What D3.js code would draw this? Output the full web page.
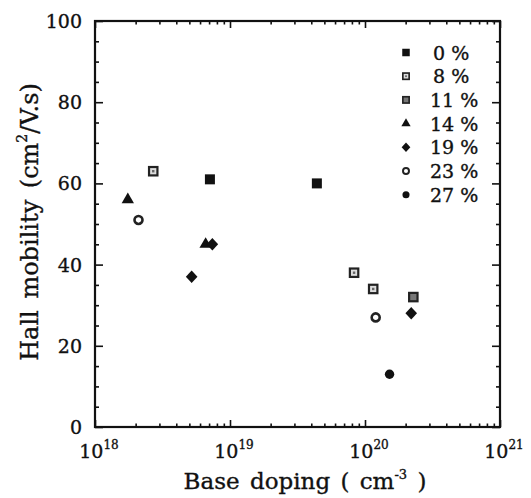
<!DOCTYPE html>
<html>
<head>
<meta charset="utf-8">
<script src="https://cdn.jsdelivr.net/npm/d3@7"></script>
<style>
  html, body { margin: 0; padding: 0; background: #fff; }
  svg text { font-family: "DejaVu Serif", "Liberation Serif", serif; fill: #111; stroke: #111; stroke-width: 0.35; }
</style>
</head>
<body>
<svg id="chart" width="531" height="498"></svg>
<script>
// ---- data ----
const seriesNames = ["0 %", "8 %", "11 %", "14 %", "19 %", "23 %", "27 %"];
const dop0  = [7.1e18, 4.4e19];          const mob0  = [61, 60];
const dop8  = [2.7e18, 8.3e19, 1.15e20]; const mob8  = [63, 38, 34];
const dop11 = [2.28e20];                 const mob11 = [32];
const dop14 = [1.75e18, 6.6e18];         const mob14 = [56, 45];
const dop19 = [5.2e18, 7.4e18, 2.2e20];  const mob19 = [37, 45, 28];
const dop23 = [2.1e18, 1.2e20];          const mob23 = [51, 27];
const dop27 = [1.52e20];                 const mob27 = [13];
const xMajorTicks = [1e18, 1e19, 1e20, 1e21];
const xTickExp = ["18", "19", "20", "21"];
const yMajorTicks = [0, 20, 40, 60, 80, 100];

const dops = [dop0, dop8, dop11, dop14, dop19, dop23, dop27];
const mobs = [mob0, mob8, mob11, mob14, mob19, mob23, mob27];

// ---- layout ----
const L = 95, R = 500, T = 21, B = 427;
const svg = d3.select("#chart");
const x = d3.scaleLog().domain([1e18, 1e21]).range([L, R]);
const y = d3.scaleLinear().domain([0, 100]).range([B, T]);

const xMinor = [];
for (let e = 18; e < 21; e++) for (let m = 2; m <= 9; m++) xMinor.push(m * Math.pow(10, e));
const yMinor = d3.range(0, 101, 5).filter(v => v % 20 !== 0);

function styleAxis(g) {
  g.select(".domain").remove();
  g.selectAll("line").attr("stroke", "#111").attr("stroke-width", 1.6);
}
// bottom / top
svg.append("g").attr("transform", `translate(0,${B})`)
  .call(d3.axisBottom(x).tickValues(xMajorTicks).tickSize(-7).tickFormat("")).call(styleAxis);
svg.append("g").attr("transform", `translate(0,${B})`)
  .call(d3.axisBottom(x).tickValues(xMinor).tickSize(-3.5).tickFormat("")).call(styleAxis);
svg.append("g").attr("transform", `translate(0,${T})`)
  .call(d3.axisTop(x).tickValues(xMajorTicks).tickSize(-7).tickFormat("")).call(styleAxis);
svg.append("g").attr("transform", `translate(0,${T})`)
  .call(d3.axisTop(x).tickValues(xMinor).tickSize(-3.5).tickFormat("")).call(styleAxis);
// left / right
svg.append("g").attr("transform", `translate(${L},0)`)
  .call(d3.axisLeft(y).tickValues(yMajorTicks).tickSize(-8).tickFormat("")).call(styleAxis);
svg.append("g").attr("transform", `translate(${L},0)`)
  .call(d3.axisLeft(y).tickValues(yMinor).tickSize(-4).tickFormat("")).call(styleAxis);
svg.append("g").attr("transform", `translate(${R},0)`)
  .call(d3.axisRight(y).tickValues(yMajorTicks).tickSize(-8).tickFormat("")).call(styleAxis);
svg.append("g").attr("transform", `translate(${R},0)`)
  .call(d3.axisRight(y).tickValues(yMinor).tickSize(-4).tickFormat("")).call(styleAxis);

// frame
svg.append("rect").attr("x", L).attr("y", T).attr("width", R - L).attr("height", B - T)
  .attr("fill", "none").attr("stroke", "#111").attr("stroke-width", 2.2);

// y tick labels
svg.append("g").selectAll("text").data(yMajorTicks).join("text")
  .attr("x", L - 13).attr("y", d => y(d) + 7)
  .attr("text-anchor", "end").attr("font-size", 19)
  .text(d => d);

// x tick labels
const xl = svg.append("g").selectAll("text").data(xMajorTicks).join("text")
  .attr("x", d => x(d) + 4).attr("y", 458)
  .attr("text-anchor", "middle").attr("font-size", 19);
xl.append("tspan").text("10");
xl.append("tspan").attr("font-size", 12).attr("dy", -9).text((d, i) => xTickExp[i]);

// axis titles
const xt = svg.append("text").attr("x", 305).attr("y", 489).attr("text-anchor", "middle")
  .attr("font-size", 23).attr("word-spacing", 3);
xt.append("tspan").text("Base doping ( cm");
xt.append("tspan").attr("font-size", 13).attr("dy", -10).text("-3");
xt.append("tspan").attr("dy", 10).text(" )");

const yt = svg.append("text").attr("transform", "translate(38,222) rotate(-90)")
  .attr("text-anchor", "middle").attr("font-size", 24)
  .attr("word-spacing", 4);
yt.append("tspan").text("Hall mobility (cm");
yt.append("tspan").attr("font-size", 14).attr("dy", -11).text("2");
yt.append("tspan").attr("dy", 11).text("/V.s)");

// ---- markers ----
function drawMarker(g, i, s) {
  const k = s;
  switch (i) {
    case 0:
      g.append("rect").attr("x", -5 * k).attr("y", -5 * k).attr("width", 10 * k).attr("height", 10 * k).attr("fill", "#111");
      break;
    case 1:
      g.append("rect").attr("x", -4.2 * k).attr("y", -4.2 * k).attr("width", 8.4 * k).attr("height", 8.4 * k)
        .attr("fill", "#ddd").attr("stroke", "#222").attr("stroke-width", 2.2 * k);
      g.append("rect").attr("x", -1.2 * k).attr("y", -1.2 * k).attr("width", 2.4 * k).attr("height", 2.4 * k).attr("fill", "#666");
      break;
    case 2:
      g.append("rect").attr("x", -4.2 * k).attr("y", -4.2 * k).attr("width", 8.4 * k).attr("height", 8.4 * k)
        .attr("fill", "#777").attr("stroke", "#222").attr("stroke-width", 2.2 * k);
      break;
    case 3:
      g.append("path").attr("d", d3.symbol(d3.symbolTriangle, 66 * k * k)()).attr("fill", "#111");
      break;
    case 4:
      g.append("path").attr("d", `M0,${-6.3 * k}L${5.8 * k},0L0,${6.3 * k}L${-5.8 * k},0Z`).attr("fill", "#111");
      break;
    case 5:
      g.append("circle").attr("r", 4 * k).attr("fill", "#fff").attr("stroke", "#222").attr("stroke-width", 2.6 * k);
      break;
    case 6:
      g.append("circle").attr("r", 4.7 * k).attr("fill", "#111");
      break;
  }
}

seriesNames.forEach((name, i) => {
  const pts = dops[i].map((d, j) => [d, mobs[i][j]]);
  const g = svg.append("g").attr("class", "series");
  g.selectAll("g").data(pts).join("g")
    .attr("transform", d => `translate(${x(d[0])},${y(d[1])})`)
    .each(function () { drawMarker(d3.select(this), i, 1); });
});

// ---- legend ----
const lg = svg.append("g");
seriesNames.forEach((name, i) => {
  const yy = 52.5 + i * 23.7;
  const m = lg.append("g").attr("transform", `translate(406,${yy})`);
  drawMarker(m, i, 0.75);
  lg.append("text").attr("x", i < 2 ? 433 : 430).attr("y", yy + 7).attr("font-size", 19).text(name);
});
</script>
</body>
</html>
